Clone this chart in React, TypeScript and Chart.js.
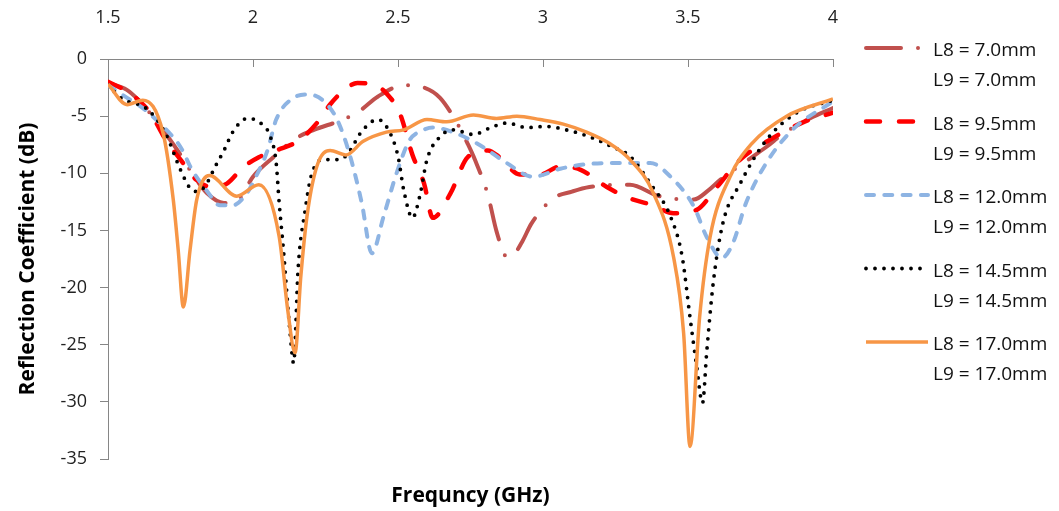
import React, { useEffect, useRef } from "react";
import { Chart, registerables } from "chart.js";

Chart.register(...registerables);

const FONT = '"Open Sans", "Noto Sans", sans-serif';
const AXIS = "#868686";
const TEXT = "#222222";

const X_TICKS = [1.5, 2, 2.5, 3, 3.5, 4];
const X_TITLE = "Frequncy (GHz)";
const Y_TITLE = "Reflection Coefficient (dB)";
const LENGTHS = ["7.0", "9.5", "12.0", "14.5", "17.0"];

// L8 = L9 = 7.0 mm
const f70 = [1.5, 1.565, 1.62, 1.68, 1.74, 1.79, 1.84, 1.9, 1.95, 2.0, 2.07, 2.145, 2.21, 2.31, 2.37, 2.43, 2.52, 2.59, 2.645, 2.71, 2.74, 2.765, 2.81, 2.84, 2.875, 2.9, 2.93, 2.96, 3.035, 3.1, 3.16, 3.3, 3.4, 3.52, 3.57, 3.61, 3.72, 3.77, 3.83, 3.92, 4.0];
const s70 = [-2.1, -2.7, -4.0, -5.9, -8.0, -10.0, -11.7, -12.6, -12.3, -10.3, -8.6, -7.0, -6.2, -5.3, -4.5, -3.3, -2.3, -2.5, -3.4, -5.9, -7.4, -8.8, -11.9, -15.1, -17.3, -17.1, -15.9, -14.4, -12.2, -11.6, -11.2, -11.0, -12.0, -12.3, -11.5, -10.6, -8.6, -7.7, -6.5, -5.2, -4.3];

// L8 = L9 = 9.5 mm
const f95 = [1.5, 1.576, 1.645, 1.7, 1.75, 1.806, 1.86, 1.91, 1.965, 2.02, 2.08, 2.16, 2.23, 2.265, 2.32, 2.36, 2.43, 2.46, 2.507, 2.55, 2.59, 2.62, 2.68, 2.74, 2.81, 2.85, 2.92, 2.99, 3.06, 3.13, 3.22, 3.3, 3.38, 3.45, 3.53, 3.6, 3.68, 3.78, 3.9, 4.0];
const s95 = [-2.0, -3.0, -4.7, -7.1, -8.8, -10.6, -11.2, -10.9, -9.5, -8.6, -8.0, -7.1, -5.3, -4.0, -2.6, -2.1, -2.4, -3.0, -4.8, -8.4, -10.9, -13.9, -11.8, -8.6, -8.0, -8.6, -10.1, -10.1, -9.4, -9.7, -11.2, -12.2, -12.8, -13.5, -13.2, -11.2, -8.8, -7.1, -5.5, -4.7];

// L8 = L9 = 12.0 mm
const f120 = [1.5, 1.566, 1.62, 1.69, 1.75, 1.79, 1.84, 1.886, 1.93, 1.98, 2.01, 2.05, 2.08, 2.14, 2.19, 2.24, 2.29, 2.335, 2.375, 2.41, 2.45, 2.495, 2.54, 2.58, 2.62, 2.69, 2.78, 2.875, 2.965, 3.06, 3.15, 3.24, 3.37, 3.44, 3.52, 3.565, 3.617, 3.655, 3.7, 3.77, 3.86, 4.0];
const s120 = [-2.3, -3.4, -4.3, -5.9, -7.7, -9.7, -11.5, -12.8, -12.8, -11.7, -10.3, -8.0, -5.3, -3.4, -3.1, -3.6, -5.3, -8.5, -12.6, -17.0, -13.8, -10.0, -7.1, -6.3, -6.0, -6.4, -7.5, -9.1, -10.3, -9.6, -9.2, -9.1, -9.1, -10.3, -12.9, -15.6, -17.4, -16.1, -12.6, -9.1, -6.2, -3.7];

// L8 = L9 = 14.5 mm
const f145 = [1.5, 1.55, 1.617, 1.645, 1.7, 1.75, 1.783, 1.81, 1.84, 1.87, 1.9, 1.93, 1.98, 2.02, 2.06, 2.08, 2.09, 2.105, 2.128, 2.14, 2.156, 2.18, 2.2, 2.24, 2.3, 2.335, 2.37, 2.43, 2.46, 2.5, 2.52, 2.55, 2.575, 2.6, 2.645, 2.69, 2.76, 2.82, 2.875, 2.945, 3.01, 3.08, 3.16, 3.24, 3.3, 3.37, 3.44, 3.48, 3.507, 3.53, 3.55, 3.565, 3.587, 3.62, 3.68, 3.77, 3.875, 4.0];
const s145 = [-2.3, -3.5, -4.1, -4.6, -6.6, -9.7, -11.3, -11.6, -10.9, -9.4, -8.0, -6.4, -5.2, -5.5, -6.8, -9.1, -12.5, -16.7, -24.0, -26.6, -18.2, -13.2, -10.3, -8.8, -8.8, -8.0, -6.5, -5.3, -5.9, -8.5, -11.5, -13.9, -12.0, -8.8, -6.8, -6.2, -6.6, -6.0, -5.6, -6.0, -5.9, -6.2, -6.8, -7.7, -8.5, -10.9, -13.8, -17.3, -22.6, -26.9, -30.1, -25.5, -19.6, -14.4, -10.9, -7.1, -4.7, -3.6];

// L8 = L9 = 17.0 mm
const f170 = [1.5, 1.566, 1.62, 1.69, 1.725, 1.742, 1.76, 1.783, 1.806, 1.85, 1.944, 2.02, 2.09, 2.12, 2.145, 2.165, 2.186, 2.22, 2.266, 2.32, 2.38, 2.46, 2.52, 2.6, 2.668, 2.76, 2.84, 2.91, 2.99, 3.07, 3.15, 3.23, 3.3, 3.38, 3.45, 3.485, 3.507, 3.54, 3.576, 3.645, 3.72, 3.84, 4.0];
const s170 = [-2.2, -4.0, -3.6, -6.5, -12.3, -16.7, -21.7, -16.7, -12.3, -10.2, -12.0, -11.0, -15.5, -22.0, -25.7, -19.0, -13.8, -9.4, -8.0, -8.4, -7.2, -6.4, -6.2, -5.3, -5.5, -4.9, -5.2, -5.0, -5.3, -5.7, -6.4, -7.4, -8.8, -11.7, -17.3, -24.0, -33.9, -22.6, -15.6, -10.3, -7.4, -5.0, -3.5];

const FREQS = [f70, f95, f120, f145, f170];
const VALUES = [s70, s95, s120, s145, s170];
const COLORS = ["#C0504D", "#FF0000", "#8EB4E3", "#000000", "#F79646"];
const WIDTHS = [4, 4.5, 4, 3.8, 3.5];
const DASHES: number[][] = [[35, 17, 0, 17], [14, 19], [8, 10.3], [0, 9], []];

const decor = {
  id: "decor",
  afterDraw(chart: any) {
    const ctx = chart.ctx as CanvasRenderingContext2D;
    const a = chart.chartArea;
    const xs = chart.scales.x;
    ctx.save();
    // inward tick marks on top axis
    ctx.strokeStyle = AXIS;
    ctx.lineWidth = 1;
    for (const v of X_TICKS) {
      const px = Math.round(xs.getPixelForValue(v)) + 0.5;
      ctx.beginPath();
      ctx.moveTo(px, a.top);
      ctx.lineTo(px, a.top + 8);
      ctx.stroke();
    }
    // titles
    ctx.fillStyle = "#000";
    ctx.font = `bold 21px ${FONT}`;
    ctx.textAlign = "center";
    ctx.textBaseline = "alphabetic";
    ctx.fillText(X_TITLE, (a.left + a.right) / 2, 502);
    ctx.save();
    ctx.translate(34, (a.top + a.bottom) / 2);
    ctx.rotate(-Math.PI / 2);
    ctx.fillText(Y_TITLE, 0, 0);
    ctx.restore();
    // legend
    ctx.font = `19px ${FONT}`;
    ctx.textAlign = "left";
    for (let i = 0; i < LENGTHS.length; i++) {
      const b1 = 56 + i * 73.5;
      const b2 = b1 + 30;
      const ly = b1 - 8;
      ctx.save();
      ctx.strokeStyle = COLORS[i];
      ctx.lineWidth = WIDTHS[i];
      ctx.lineCap = DASHES[i].length ? "round" : "butt";
      ctx.setLineDash(DASHES[i]);
      ctx.beginPath();
      ctx.moveTo(866, ly);
      ctx.lineTo(928, ly);
      ctx.stroke();
      ctx.restore();
      ctx.fillStyle = "#111";
      ctx.fillText(`L8 = ${LENGTHS[i]}mm`, 933, b1);
      ctx.fillText(`L9 = ${LENGTHS[i]}mm`, 933, b2);
    }
    ctx.restore();
  },
};

export default function App() {
  const ref = useRef<HTMLCanvasElement>(null);
  useEffect(() => {
    if (!ref.current) return;
    const datasets = LENGTHS.map((l, i) => ({
      label: `L8 = ${l}mm, L9 = ${l}mm`,
      data: FREQS[i].map((x, j) => ({ x, y: VALUES[i][j] })),
      borderColor: COLORS[i],
      backgroundColor: COLORS[i],
      borderWidth: WIDTHS[i],
      borderDash: DASHES[i],
      borderCapStyle: DASHES[i].length ? "round" : "butt",
      borderJoinStyle: "round",
      pointRadius: 0,
      fill: false,
      cubicInterpolationMode: "monotone",
      order: LENGTHS.length - i,
    }));
    const chart = new Chart(ref.current, {
      type: "line",
      data: { datasets } as any,
      options: {
        responsive: false,
        animation: false,
        layout: { padding: { left: 0, right: 226, top: 0, bottom: 52 } },
        plugins: { legend: { display: false }, tooltip: { enabled: false } },
        scales: {
          x: {
            type: "linear",
            position: "top",
            min: 1.5,
            max: 4,
            ticks: {
              stepSize: 0.5,
              padding: 30,
              maxRotation: 0,
              color: TEXT,
              font: { family: FONT, size: 18 },
              callback: (v: any) => String(v),
            },
            grid: { display: false, drawTicks: false },
            border: { display: true, color: AXIS, width: 1 },
            afterFit: (s: any) => {
              s.height = 59;
            },
          },
          y: {
            min: -35,
            max: 0,
            ticks: {
              stepSize: 5,
              padding: 13,
              color: TEXT,
              font: { family: FONT, size: 18 },
              callback: (v: any) => String(v),
            },
            grid: { drawOnChartArea: false, drawTicks: true, tickLength: 8, color: AXIS },
            border: { display: true, color: AXIS, width: 1 },
            afterFit: (s: any) => {
              s.width = 108;
            },
          },
        },
      } as any,
      plugins: [decor],
    });
    return () => chart.destroy();
  }, []);
  return (
    <div style={{ position: "absolute", left: 0, top: 0, width: 1059, height: 511, background: "#fff" }}>
      <canvas ref={ref} width={1059} height={511} style={{ display: "block" }} />
    </div>
  );
}
